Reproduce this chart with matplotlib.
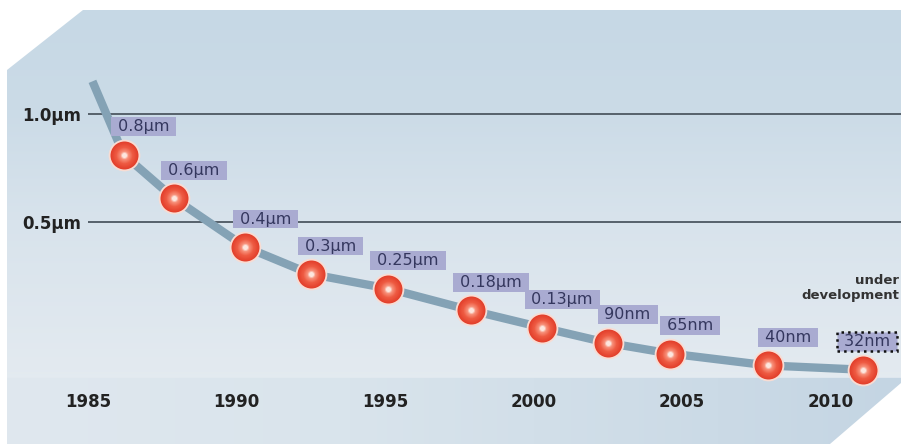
import numpy as np
import matplotlib.pyplot as plt
from matplotlib.colors import to_rgb
from matplotlib.patches import Polygon

# process nodes: year of introduction and feature size
years = [1986.2, 1987.9, 1990.3, 1992.5, 1995.1, 1997.9, 2000.3, 2002.5, 2004.6, 2007.9, 2011.1]
feature_um = [0.8, 0.6, 0.4, 0.3, 0.25, 0.18, 0.13, 0.09, 0.065, 0.04, 0.032]
node_labels = ["0.8µm", "0.6µm", "0.4µm", "0.3µm", "0.25µm", "0.18µm",
               "0.13µm", "90nm", "65nm", "40nm", "32nm"]
trend_start_year = 1985.15
trend_start_um = 1.17

year_ticks = [1985, 1990, 1995, 2000, 2005, 2010]
size_ticks = [1.0, 0.5]
size_tick_labels = ["1.0µm", "0.5µm"]

W, H = 901, 444
POW = 0.7


def fwd(v):
    v = np.asarray(v, dtype=float)
    return np.sign(v) * np.abs(v) ** POW


def inv(f):
    f = np.asarray(f, dtype=float)
    return np.sign(f) * np.abs(f) ** (1 / POW)


def gradient(stops, n):
    pos = [p for p, _ in stops]
    cols = np.array([to_rgb(c) for _, c in stops])
    t = np.arange(n)
    return np.stack([np.interp(t, pos, cols[:, k]) for k in range(3)], axis=-1)


fig = plt.figure(figsize=(W / 100, H / 100), dpi=100)
fig.patch.set_facecolor("white")

# background panel with cut corners
bg = fig.add_axes([0, 0, 1, 1], zorder=0)
bg.set_xlim(0, W)
bg.set_ylim(H, 0)
bg.axis("off")

img = np.repeat(gradient([(10, "#c6d8e5"), (110, "#cbdbe7"), (220, "#d8e3ec"),
                          (370, "#e3eaf0"), (378, "#e3eaf0")], H)[:, None, :], W, axis=1)
band = np.repeat(gradient([(0, "#e0e8ef"), (350, "#d9e4ec"), (W, "#c4d5e3")], W)[None, :, :],
                 H, axis=0)
img[378:] = band[378:]
panel = Polygon([(7, 70), (83, 10), (W, 10), (W, 383), (830, H), (7, H)],
                closed=True, facecolor="none", edgecolor="none")
bg.add_patch(panel)
im = bg.imshow(img, extent=(0, W, H, 0), aspect="auto", interpolation="bilinear")
im.set_clip_path(panel)

bg.text(899, 288, "under\ndevelopment", ha="right", va="center", multialignment="right",
        fontsize=9.5, fontweight="bold", color="#333333", linespacing=1.15)

# chart axes
ax = fig.add_axes([88 / W, (H - 385) / H, (W - 88) / W, (385 - 10) / H], zorder=1)
ax.set_facecolor("none")
ax.set_yscale("function", functions=(fwd, inv))
ax.set_xlim(1985.013, 2012.38)
ax.set_ylim(0.00849, 1.568)
for s in ax.spines.values():
    s.set_visible(False)

ax.set_xticks(year_ticks)
ax.set_xticklabels([str(y) for y in year_ticks], fontsize=12, fontweight="bold", color="#222222")
ax.set_yticks(size_ticks)
ax.set_yticklabels(size_tick_labels, fontsize=12, fontweight="bold", color="#222222")
ax.yaxis.set_minor_locator(plt.NullLocator())
ax.tick_params(axis="x", length=0, pad=6)
ax.tick_params(axis="y", length=0, pad=5)
ax.grid(axis="y", color="#56616b", linewidth=1.4)
ax.grid(axis="x", visible=False)

# trend curve
ax.plot([trend_start_year] + years, [trend_start_um] + feature_um, color="#84a2b5",
        linewidth=6, solid_joinstyle="round", solid_capstyle="butt", zorder=3, clip_on=False)

# shaded spheres: pale rim, then a radial ramp from red edge to a light centre
ax.scatter(years, feature_um, s=520, color="#f8dcd3", linewidths=0, zorder=4, clip_on=False)
ramp = gradient([(0, "#e3402c"), (5, "#ee5a42"), (9, "#f7907a"), (11, "#fde6de")], 12)
diam = np.linspace(28, 5, 12)
for d, col in zip(diam, ramp):
    ax.scatter(years, feature_um, s=(d * 0.72) ** 2, color=col, linewidths=0,
               zorder=4, clip_on=False)

# node labels
for x, y, lab in zip(years, feature_um, node_labels):
    dev = lab == node_labels[-1]
    ax.annotate(f" {lab} ", (x, y), xytext=(4 if dev else 20, 28), textcoords="offset pixels",
                ha="center", va="center", fontsize=11.5, color="#34375e", zorder=5,
                annotation_clip=False,
                bbox=dict(boxstyle="square,pad=0.12", facecolor="#a9abd1",
                          edgecolor="#111111" if dev else "none",
                          linestyle=":" if dev else "-", linewidth=1.8 if dev else 0))

fig.savefig("out.png", dpi=100)
